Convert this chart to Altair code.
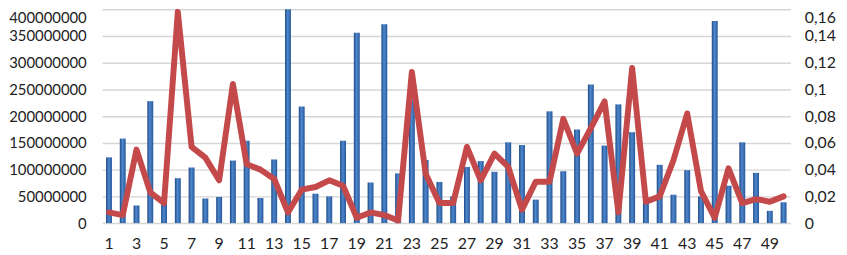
import altair as alt
import pandas as pd

categories = list(range(1, 51))

bar_values_m = [123, 158, 33, 228, 38, 84, 104, 46, 49, 117,
                154, 47, 119, 400, 218, 55, 50, 154, 356, 76,
                372, 93, 230, 118, 77, 50, 105, 116, 96, 151,
                146, 44, 209, 97, 175, 259, 145, 222, 170, 38,
                109, 53, 99, 50, 378, 70, 151, 94, 23, 39]

line_values = [0.008, 0.006, 0.055, 0.023, 0.015, 0.158, 0.057, 0.049, 0.032, 0.104,
               0.044, 0.040, 0.033, 0.008, 0.025, 0.027, 0.032, 0.028, 0.004, 0.008,
               0.006, 0.002, 0.113, 0.037, 0.015, 0.015, 0.057, 0.032, 0.052, 0.042,
               0.010, 0.031, 0.031, 0.078, 0.052, 0.071, 0.091, 0.008, 0.116, 0.016,
               0.020, 0.047, 0.082, 0.024, 0.004, 0.041, 0.015, 0.018, 0.016, 0.020]

left_ticks = [0, 50000000, 100000000, 150000000, 200000000,
              250000000, 300000000, 350000000, 400000000]
right_ticks = [0, 0.02, 0.04, 0.06, 0.08, 0.1, 0.12, 0.14, 0.16]
x_label_values = list(range(1, 50, 2))

df = pd.DataFrame({
    "cat": categories,
    "bar": [v * 1_000_000 for v in bar_values_m],
    "ratio": line_values,
})

FONT = "Lato"

x_enc = alt.X(
    "cat:O",
    sort=categories,
    scale=alt.Scale(paddingInner=0.57, paddingOuter=0.285),
    axis=alt.Axis(
        title=None, values=x_label_values, labelAngle=0, domain=False,
        ticks=False, tickSize=0, labelPadding=13, labelFontSize=16,
        labelFont=FONT, labelColor="#222222", grid=False,
    ),
)

bars = alt.Chart(df).mark_bar(
    color=alt.Gradient(
        gradient="linear",
        stops=[
            alt.GradientStop(color="#1d4a86", offset=0),
            alt.GradientStop(color="#5088cc", offset=0.45),
            alt.GradientStop(color="#24569a", offset=1),
        ],
        x1=0, x2=1, y1=0, y2=0,
    )
).encode(
    x=x_enc,
    y=alt.Y(
        "bar:Q",
        scale=alt.Scale(domain=[0, 400000000], nice=False),
        axis=alt.Axis(
            title=None, orient="left", values=left_ticks, format="d",
            domain=False, ticks=False, tickSize=0, labelPadding=16,
            labelFontSize=15, labelFont=FONT, labelColor="#222222",
            labelOffset={"condition": {"test": "datum.value >= 399000000", "value": 8}, "value": 0},
            grid=True, gridColor="#d6d6d6", gridWidth=1.5,
        ),
    ),
)

line = alt.Chart(df).mark_line(
    color="#c4494a", strokeWidth=6, strokeJoin="round", strokeCap="round"
).encode(
    x=x_enc,
    y=alt.Y(
        "ratio:Q",
        scale=alt.Scale(domain=[0, 0.16], nice=False),
        axis=alt.Axis(
            title=None, orient="right", values=right_ticks,
            labelExpr="replace(format(datum.value, '.2~f'), '.', ',')",
            domain=False, ticks=False, tickSize=0, labelPadding=14,
            labelFontSize=16, labelFont=FONT, labelColor="#222222",
            labelOffset={"condition": {"test": "datum.value >= 0.159", "value": 8}, "value": 0},
            grid=False,
        ),
    ),
)

chart = alt.layer(bars, line).resolve_scale(y="independent").properties(
    width=695,
    height=216,
    autosize=alt.AutoSizeParams(type="none"),
    padding={"left": 95, "right": 49, "top": 0, "bottom": 31},
    background="white",
).configure_view(stroke=None)

chart.save("out.html", embed_options={"renderer": "svg", "actions": False})
